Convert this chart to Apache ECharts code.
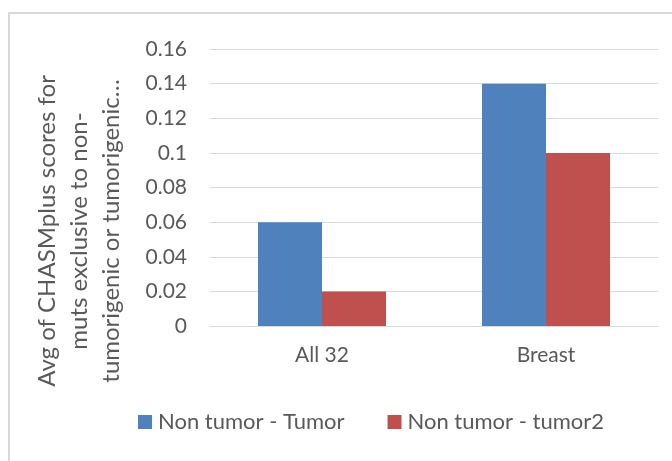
<!DOCTYPE html>
<html>
<head>
<meta charset="utf-8">
<script src="https://cdn.jsdelivr.net/npm/echarts@6/dist/echarts.min.js"></script>
<style>
html,body{margin:0;padding:0;background:#fff;}
#chart{width:672px;height:461px;}
</style>
</head>
<body>
<div id="chart"></div>
<script>
const categories = ['All 32', 'Breast'];
const seriesNames = ['Non tumor - Tumor', 'Non tumor - tumor2'];
const tumorValues = [0.06, 0.14];
const tumor2Values = [0.02, 0.10];
const yTickLabels = ['0', '0.02', '0.04', '0.06', '0.08', '0.1', '0.12', '0.14', '0.16'];
const yTitleLines = ['Avg of CHASMplus scores for', 'muts exclusive to non-', 'tumorigenic or tumorigenic…'];

const FONT = 'Lato, "Open Sans", sans-serif';
const TXT = '#595959';

const chart = echarts.init(document.getElementById('chart'), null, {renderer: 'canvas'});
chart.setOption({
  animation: false,
  backgroundColor: '#ffffff',
  grid: {left: 210, right: 14, top: 49, bottom: 135},
  legend: {
    data: seriesNames,
    left: 133, top: 405,
    icon: 'rect', itemWidth: 14, itemHeight: 14, itemGap: 43,
    textStyle: {color: TXT, fontFamily: FONT, fontSize: 22, lineHeight: 24, padding: [0, 0, 0, 1]}
  },
  xAxis: {
    type: 'category',
    data: categories,
    axisLine: {show: true, lineStyle: {color: '#D9D9D9', width: 1}},
    axisTick: {show: false},
    axisLabel: {color: TXT, fontFamily: FONT, fontSize: 21, margin: 19}
  },
  yAxis: {
    type: 'value',
    min: 0, max: 0.16, interval: 0.02,
    axisLine: {show: false},
    axisTick: {show: false},
    splitLine: {lineStyle: {color: '#D9D9D9', width: 1}},
    axisLabel: {
      color: TXT, fontFamily: FONT, fontSize: 21, margin: 23,
      formatter: function (v) { return yTickLabels[Math.round(v / 0.02)]; }
    }
  },
  series: [
    {name: seriesNames[0], type: 'bar', data: tumorValues, barWidth: 64, barGap: '0%',
     itemStyle: {color: '#4F81BD'}},
    {name: seriesNames[1], type: 'bar', data: tumor2Values, barWidth: 64, barGap: '0%',
     itemStyle: {color: '#C0504D'}}
  ],
  graphic: [
    {type: 'rect', shape: {x: 9, y: 13, width: 700, height: 500}, silent: true,
     style: {fill: 'none', stroke: '#D9D9D9', lineWidth: 2}},
    {type: 'text', x: 79, y: 231, rotation: Math.PI / 2, silent: true,
     style: {text: yTitleLines.join('\n'), fill: TXT, font: '24px ' + FONT,
             textAlign: 'center', textVerticalAlign: 'middle', lineHeight: 32}}
  ]
});
</script>
</body>
</html>
